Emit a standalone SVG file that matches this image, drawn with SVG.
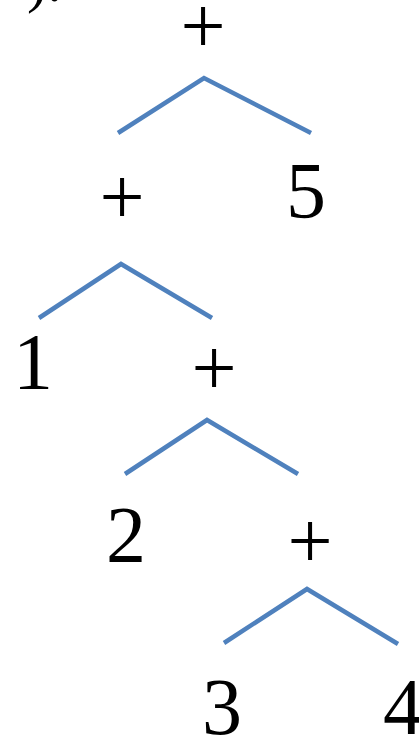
<svg xmlns="http://www.w3.org/2000/svg" width="419" height="735" viewBox="0 0 419 735">
<style>
text{font-family:"Liberation Serif","Times New Roman",serif;font-size:80px;fill:#000;text-anchor:middle}
.c{fill:none;stroke:#4f81bd;stroke-width:4.5;stroke-linejoin:miter}
</style>
<rect width="419" height="735" fill="#fff"/>
<text x="27" y="1" style="text-anchor:start;font-size:60px">).</text>
<g id="connectors">
<polyline class="c" points="118,133 204,78 311,133"/>
<polyline class="c" points="39,318 121,264 212,318"/>
<polyline class="c" points="125,474 207,420 298,474"/>
<polyline class="c" points="224,643 307,589 398,644"/>
</g>
<g id="n1"><text x="203" y="53">+</text></g>
<g id="n2"><text x="122" y="224">+</text></g>
<g id="n3"><text x="306" y="218">5</text></g>
<g id="n4"><text x="33" y="389">1</text></g>
<g id="n5"><text x="214" y="395">+</text></g>
<g id="n6"><text x="126" y="562">2</text></g>
<g id="n7"><text x="310" y="568">+</text></g>
<g id="n8"><text x="222" y="734">3</text></g>
<g id="n9"><text x="403" y="734">4</text></g>
</svg>
